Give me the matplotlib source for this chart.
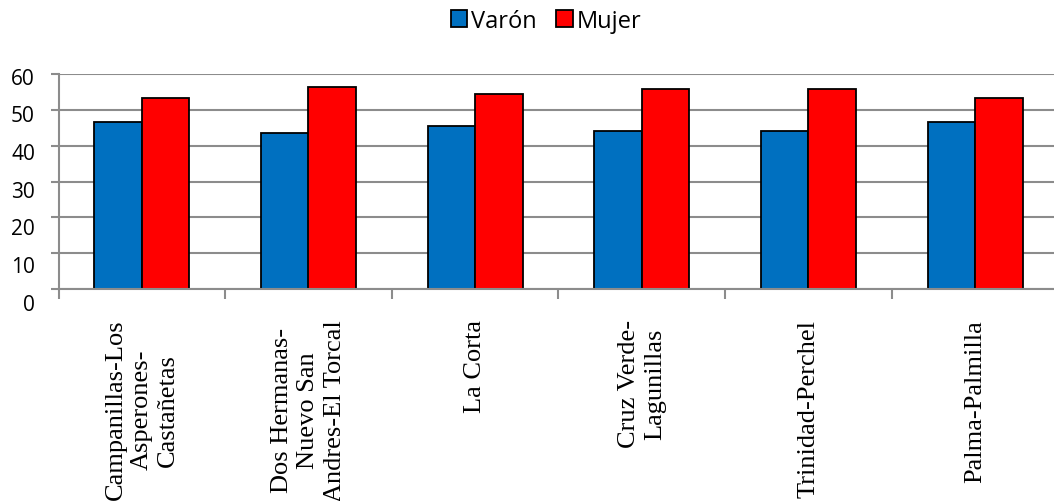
'''     bar chart: Varón / Mujer por barrio     '''

import matplotlib.pyplot as plt
import matplotlib.transforms as mtransforms
import numpy as np

# data
barrios = ['Campanillas-Los\nAsperones-\nCastañetas',
           'Dos Hermanas-\nNuevo San\nAndres-El Torcal',
           'La Corta',
           'Cruz Verde-\nLagunillas',
           'Trinidad-Perchel',
           'Palma-Palmilla']
varon = [46.7, 43.5, 45.6, 44.2, 44.1, 46.7]
mujer = [53.3, 56.5, 54.4, 55.8, 55.9, 53.3]
yticks = [0, 10, 20, 30, 40, 50, 60]

plt.rcParams['font.family'] = ['Open Sans', 'DejaVu Sans']
grey = '#8c8c8c'

fig = plt.figure(figsize=(10.54, 5.02), dpi=100)
ax = fig.add_axes([58.5 / 1054, 1 - 290 / 502, 1000 / 1054, 215 / 502])

x = np.arange(len(barrios))
w = 0.285
ax.bar(x - w / 2, varon, w, color='#0070C0', edgecolor='black', linewidth=1.3, label='Varón', zorder=3)
ax.bar(x + w / 2, mujer, w, color='#FF0000', edgecolor='black', linewidth=1.3, label='Mujer', zorder=3)

ax.set_xlim(-0.5, len(barrios) - 0.5)
ax.set_ylim(0, 60)
ax.set_yticks(yticks)
ax.tick_params(axis='y', labelsize=15, length=6, width=1.5, color=grey, pad=11)
ax.yaxis.grid(True, color=grey, linewidth=1.5, zorder=0)

# y labels sit a little lower the further down they are (as in the original)
for lab, v in zip(ax.get_yticklabels(), yticks):
    dy = (1.5 + (60 - v) / 10 * 1.9) / 100
    lab.set_transform(lab.get_transform() + mtransforms.ScaledTranslation(0, -dy, fig.dpi_scale_trans))

# category labels at centres, tick marks at boundaries
ax.set_xticks(x)
ax.set_xticklabels(barrios, rotation=90, fontfamily='Liberation Serif', fontsize=19,
                   linespacing=1.25, multialignment='center')
ax.tick_params(axis='x', which='major', length=0, pad=21.5)
ax.set_xticks(np.arange(len(barrios) + 1) - 0.5, minor=True)
ax.tick_params(axis='x', which='minor', length=7, width=1.5, color=grey)

for s in ['top', 'right']:
    ax.spines[s].set_visible(False)
for s in ['left', 'bottom']:
    ax.spines[s].set_color(grey)
    ax.spines[s].set_linewidth(1.5)
    ax.spines[s].set_zorder(4)

fig.legend(loc='center', bbox_to_anchor=(0.518, 1 - 22 / 502), ncol=2, frameon=False,
           fontsize=17, handlelength=0.7, handleheight=0.7, handletextpad=0.15,
           columnspacing=0.85, borderpad=0)

fig.savefig('out.png', dpi=100)
